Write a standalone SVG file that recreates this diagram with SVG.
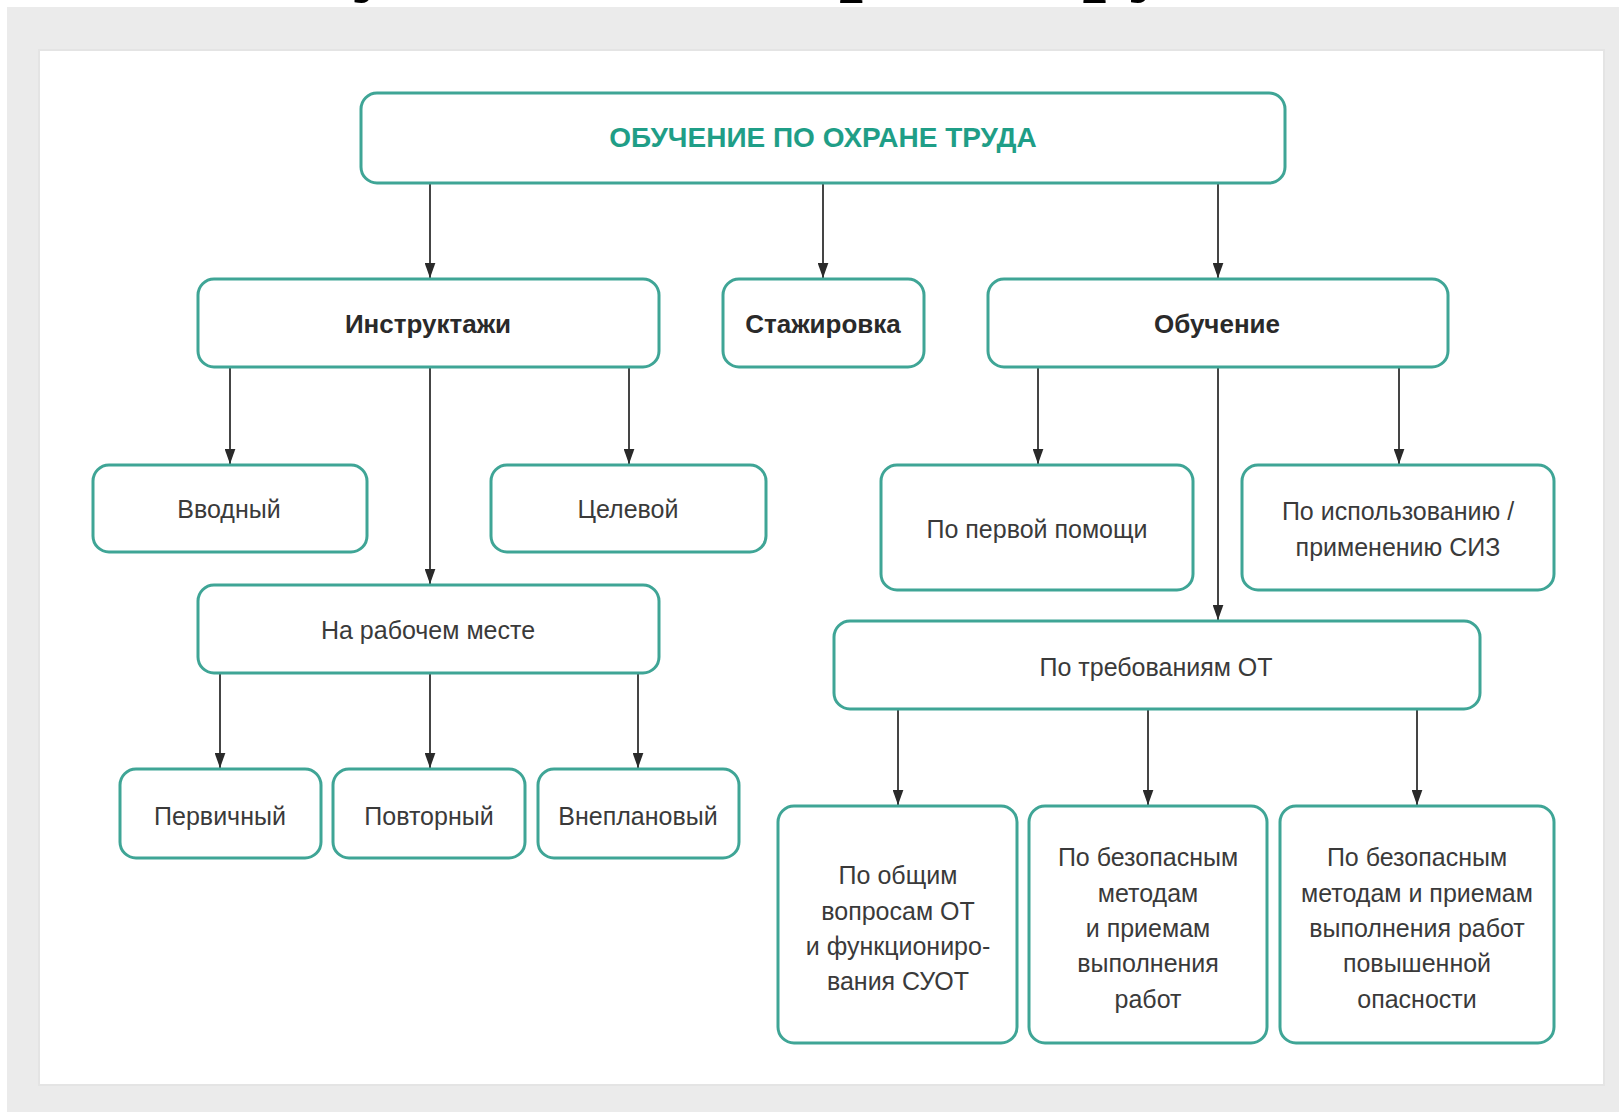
<svg xmlns="http://www.w3.org/2000/svg" width="1619" height="1112" viewBox="0 0 1619 1112">
<defs>
<style>
.box{fill:#ffffff;stroke:#3fa596;stroke-width:3}
.t{font-family:"Liberation Sans",Arial,sans-serif;font-size:25px;fill:#3a3a3a;text-anchor:middle}
.b{font-family:"Liberation Sans",Arial,sans-serif;font-size:26px;font-weight:bold;fill:#2a2a2a;text-anchor:middle}
.root{font-family:"Liberation Sans",Arial,sans-serif;font-size:28px;font-weight:bold;fill:#1f9e87;text-anchor:middle}
.edge{stroke:#454545;stroke-width:2;fill:none;marker-end:url(#arr)}
</style>
<marker id="arr" viewBox="0 0 10 14" refX="5" refY="14" markerWidth="11" markerHeight="15" markerUnits="userSpaceOnUse" orient="0">
<path d="M0,0 L10,0 L5,14 z" fill="#2a2a2a"/>
</marker>
</defs>
<rect x="0" y="0" width="1619" height="1112" fill="#ffffff"/>
<text x="246" y="-16" font-family="'Liberation Serif','Times New Roman',serif" font-size="86" font-weight="bold" fill="#000">Обучение по охране труда</text>
<rect x="7" y="7" width="1612" height="1105" fill="#ebebeb"/>
<rect x="38" y="49" width="1567" height="1037" fill="#e4e4e4"/>
<rect x="40" y="51" width="1563" height="1033" fill="#ffffff"/>

<g id="connectors">
<line class="edge" x1="430" y1="183" x2="430" y2="278"/>
<line class="edge" x1="823" y1="183" x2="823" y2="278"/>
<line class="edge" x1="1218" y1="183" x2="1218" y2="278"/>
<line class="edge" x1="230" y1="367" x2="230" y2="464"/>
<line class="edge" x1="430" y1="367" x2="430" y2="584"/>
<line class="edge" x1="629" y1="367" x2="629" y2="464"/>
<line class="edge" x1="220" y1="673" x2="220" y2="768"/>
<line class="edge" x1="430" y1="673" x2="430" y2="768"/>
<line class="edge" x1="638" y1="673" x2="638" y2="768"/>
<line class="edge" x1="1038" y1="367" x2="1038" y2="464"/>
<line class="edge" x1="1218" y1="367" x2="1218" y2="620"/>
<line class="edge" x1="1399" y1="367" x2="1399" y2="464"/>
<line class="edge" x1="898" y1="709" x2="898" y2="805"/>
<line class="edge" x1="1148" y1="709" x2="1148" y2="805"/>
<line class="edge" x1="1417" y1="709" x2="1417" y2="805"/>
</g>

<g id="root">
<rect class="box" x="361" y="93" width="924" height="90" rx="16"/>
<text class="root" x="823" y="147">ОБУЧЕНИЕ ПО ОХРАНЕ ТРУДА</text>
</g>
<g id="instruktazhi">
<rect class="box" x="198" y="279" width="461" height="88" rx="16"/>
<text class="b" x="428" y="333">Инструктажи</text>
</g>
<g id="stazhirovka">
<rect class="box" x="723" y="279" width="201" height="88" rx="16"/>
<text class="b" x="823" y="333">Стажировка</text>
</g>
<g id="obuchenie">
<rect class="box" x="988" y="279" width="460" height="88" rx="16"/>
<text class="b" x="1217" y="333">Обучение</text>
</g>
<g id="vvodny">
<rect class="box" x="93" y="465" width="274" height="87" rx="16"/>
<text class="t" x="229" y="518">Вводный</text>
</g>
<g id="tselevoy">
<rect class="box" x="491" y="465" width="275" height="87" rx="16"/>
<text class="t" x="628" y="518">Целевой</text>
</g>
<g id="na-rabochem-meste">
<rect class="box" x="198" y="585" width="461" height="88" rx="16"/>
<text class="t" x="428" y="639">На рабочем месте</text>
</g>
<g id="pervichny">
<rect class="box" x="120" y="769" width="201" height="89" rx="16"/>
<text class="t" x="220" y="825">Первичный</text>
</g>
<g id="povtorny">
<rect class="box" x="333" y="769" width="192" height="89" rx="16"/>
<text class="t" x="429" y="825">Повторный</text>
</g>
<g id="vneplanovy">
<rect class="box" x="538" y="769" width="201" height="89" rx="16"/>
<text class="t" x="638" y="825">Внеплановый</text>
</g>
<g id="pervaya-pomosh">
<rect class="box" x="881" y="465" width="312" height="125" rx="16"/>
<text class="t" x="1037" y="538">По первой помощи</text>
</g>
<g id="siz">
<rect class="box" x="1242" y="465" width="312" height="125" rx="16"/>
<text class="t" x="1398" y="520">По использованию /</text>
<text class="t" x="1398" y="556">применению СИЗ</text>
</g>
<g id="trebovaniya-ot">
<rect class="box" x="834" y="621" width="646" height="88" rx="16"/>
<text class="t" x="1156" y="676">По требованиям ОТ</text>
</g>
<g id="obshchie-voprosy">
<rect class="box" x="778" y="806" width="239" height="237" rx="16"/>
<text class="t" x="898" y="884">По общим</text>
<text class="t" x="898" y="920">вопросам ОТ</text>
<text class="t" x="898" y="955">и функциониро-</text>
<text class="t" x="898" y="990">вания СУОТ</text>
</g>
<g id="bezopasnye-metody">
<rect class="box" x="1029" y="806" width="238" height="237" rx="16"/>
<text class="t" x="1148" y="866">По безопасным</text>
<text class="t" x="1148" y="902">методам</text>
<text class="t" x="1148" y="937">и приемам</text>
<text class="t" x="1148" y="972">выполнения</text>
<text class="t" x="1148" y="1008">работ</text>
</g>
<g id="povyshennoy-opasnosti">
<rect class="box" x="1280" y="806" width="274" height="237" rx="16"/>
<text class="t" x="1417" y="866">По безопасным</text>
<text class="t" x="1417" y="902">методам и приемам</text>
<text class="t" x="1417" y="937">выполнения работ</text>
<text class="t" x="1417" y="972">повышенной</text>
<text class="t" x="1417" y="1008">опасности</text>
</g>
</svg>
